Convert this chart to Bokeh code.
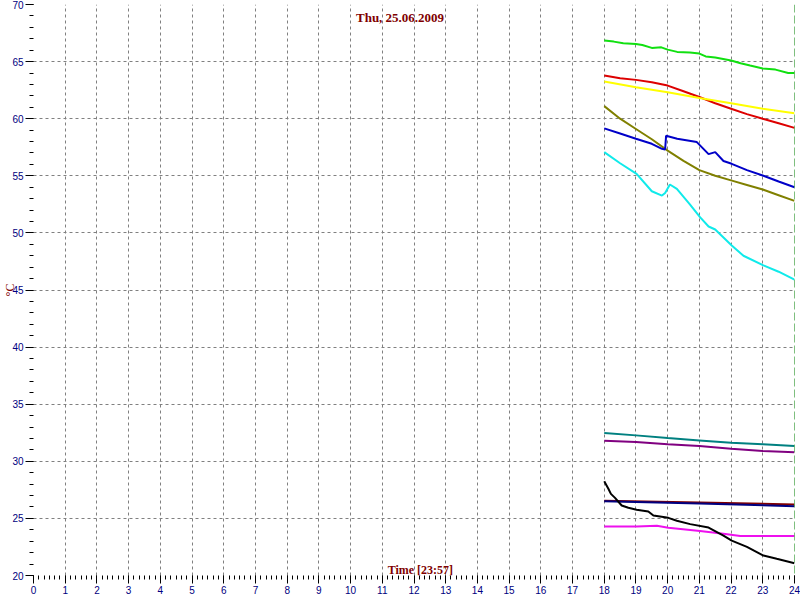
from bokeh.plotting import figure
from bokeh.models import Range1d, SingleIntervalTicker, FixedTicker, Span, Label
from bokeh.embed import file_html
from bokeh.resources import INLINE

# ---- data (hours, °C) ----
green_t = [18.0, 18.3, 18.6, 19.0, 19.2, 19.5, 19.8, 20.0, 20.3, 20.7, 21.0, 21.2, 21.5, 22.0, 22.3, 22.6, 23.0, 23.4, 23.8, 24.0]
green_v = [66.85, 66.75, 66.6, 66.55, 66.45, 66.2, 66.25, 66.05, 65.85, 65.8, 65.7, 65.45, 65.35, 65.1, 64.85, 64.65, 64.4, 64.3, 64.0, 64.0]

red_t = [18.0, 18.5, 19.0, 19.5, 20.0, 20.5, 21.0, 21.5, 22.0, 22.5, 23.0, 23.5, 24.0]
red_v = [63.78, 63.55, 63.4, 63.2, 62.9, 62.4, 61.9, 61.35, 60.87, 60.4, 59.99, 59.6, 59.2]

yellow_t = [18.0, 19.0, 20.0, 21.0, 22.0, 23.0, 24.0]
yellow_v = [63.26, 62.76, 62.32, 61.82, 61.36, 60.87, 60.48]

olive_t = [18.0, 18.5, 19.0, 19.5, 20.0, 20.5, 21.0, 21.5, 22.0, 22.5, 23.0, 23.5, 24.0]
olive_v = [61.1, 60.0, 59.1, 58.2, 57.2, 56.3, 55.5, 55.0, 54.6, 54.2, 53.8, 53.3, 52.8]

blue_t = [18.0, 18.5, 19.0, 19.5, 19.82, 19.92, 19.95, 20.3, 20.92, 21.29, 21.5, 21.76, 22.02, 22.5, 23.02, 23.5, 24.0]
blue_v = [59.15, 58.7, 58.24, 57.8, 57.36, 57.3, 58.5, 58.24, 57.95, 56.9, 57.07, 56.3, 56.05, 55.5, 55.0, 54.5, 54.0]

cyan_t = [18.0, 18.5, 19.02, 19.5, 19.82, 19.92, 20.07, 20.29, 20.7, 21.02, 21.29, 21.5, 22.02, 22.39, 23.02, 23.5, 24.0]
cyan_v = [57.07, 56.1, 55.17, 53.65, 53.27, 53.5, 54.24, 53.86, 52.5, 51.38, 50.56, 50.3, 48.9, 48.0, 47.15, 46.6, 45.9]

teal_t = [18.0, 19.0, 20.0, 21.0, 22.0, 23.0, 24.0]
teal_v = [32.47, 32.27, 32.03, 31.83, 31.62, 31.5, 31.35]

purple_t = [18.0, 19.0, 20.0, 21.0, 22.0, 23.0, 24.0]
purple_v = [31.8, 31.7, 31.5, 31.33, 31.1, 30.9, 30.8]

maroon_t = [18.0, 21.0, 24.0]
maroon_v = [26.55, 26.4, 26.22]

navy_t = [18.0, 21.0, 24.0]
navy_v = [26.5, 26.3, 26.07]

magenta_t = [18.0, 19.02, 19.66, 20.02, 21.02, 21.76, 22.29, 24.0]
magenta_v = [24.3, 24.3, 24.35, 24.19, 23.9, 23.66, 23.46, 23.46]

black_t = [18.0, 18.13, 18.21, 18.34, 18.55, 18.76, 19.02, 19.39, 19.55, 20.02, 20.29, 20.71, 21.29, 21.76, 22.02, 22.5, 23.02, 23.44, 24.0]
black_v = [28.26, 27.6, 27.15, 26.8, 26.13, 25.93, 25.75, 25.6, 25.25, 25.05, 24.8, 24.5, 24.2, 23.5, 23.06, 22.5, 21.75, 21.46, 21.08]

series = [
    (green_t, green_v, "#10e010"),
    (red_t, red_v, "#dd0000"),
    (yellow_t, yellow_v, "#ffff00"),
    (olive_t, olive_v, "#808000"),
    (blue_t, blue_v, "#0000c8"),
    (cyan_t, cyan_v, "#10eaea"),
    (teal_t, teal_v, "#008080"),
    (purple_t, purple_v, "#800080"),
    (maroon_t, maroon_v, "#800000"),
    (navy_t, navy_v, "#000080"),
    (magenta_t, magenta_v, "#ee10ee"),
    (black_t, black_v, "#000000"),
]

title_text = "Thu, 25.06.2009"
xlabel_text = "Time [23:57]"
ylabel_text = "°C"

p = figure(width=800, height=600, output_backend="svg", toolbar_location=None,
           x_range=Range1d(0, 24), y_range=Range1d(20, 70),
           min_border_left=33, min_border_right=6, min_border_top=4, min_border_bottom=25)
p.background_fill_color = "white"
p.border_fill_color = "white"
p.outline_line_color = None

for ax in (p.xaxis[0], p.yaxis[0]):
    ax.axis_line_color = None
    ax.major_tick_line_color = "black"
    ax.minor_tick_line_color = "black"
    ax.major_tick_in = 0
    ax.minor_tick_in = 0
    ax.major_tick_out = 8
    ax.minor_tick_out = 4
    ax.major_label_text_color = "#000080"
    ax.major_label_text_font = "Liberation Sans"
    ax.major_label_text_font_size = "10px"

p.xaxis.ticker = SingleIntervalTicker(interval=1, num_minor_ticks=6)
p.yaxis.ticker = SingleIntervalTicker(interval=5, num_minor_ticks=5)
p.xaxis.major_label_standoff = 2
p.yaxis.major_label_standoff = 2

p.yaxis.axis_label = ylabel_text
p.yaxis.axis_label_text_font = "Liberation Serif"
p.yaxis.axis_label_text_font_style = "normal"
p.yaxis.axis_label_text_font_size = "12px"
p.yaxis.axis_label_text_color = "#800000"
p.yaxis.axis_label_standoff = -8

p.xgrid.ticker = FixedTicker(ticks=list(range(1, 24)))
p.ygrid.ticker = FixedTicker(ticks=list(range(25, 70, 5)))
for g in (p.xgrid[0], p.ygrid[0]):
    g.grid_line_color = "#808080"
    g.grid_line_dash = "3 3"
    g.grid_line_width = 1

for t, v, c in series:
    p.line(t, v, line_color=c, line_width=2)

p.add_layout(Span(location=24, dimension="height", line_color="#008000",
                  line_dash="8 3", line_width=1))

p.add_layout(Label(x=11.56, y=68.9, text=title_text, text_align="center", text_baseline="middle",
                   text_font="Liberation Serif", text_font_style="bold", text_font_size="13px",
                   text_color="#800000"))
p.add_layout(Label(x=12.2, y=20.5, text=xlabel_text, text_align="center", text_baseline="middle",
                   text_font="Liberation Serif", text_font_style="bold", text_font_size="12px",
                   text_color="#800000"))

open("out.html", "w").write(file_html(p, INLINE))
